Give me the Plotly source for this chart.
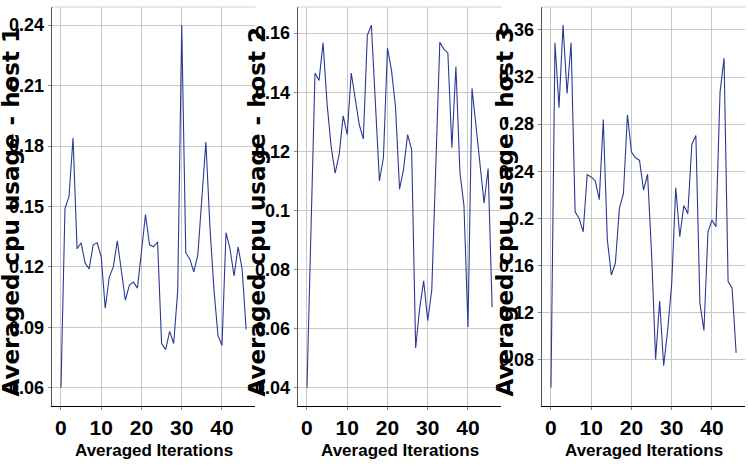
import plotly.graph_objects as go

iterations = list(range(47))

host1 = [0.060, 0.149, 0.155, 0.184, 0.129, 0.132, 0.122, 0.119, 0.131, 0.132,
         0.125, 0.0995, 0.115, 0.120, 0.133, 0.119, 0.1035, 0.111, 0.1125, 0.1095,
         0.128, 0.146, 0.131, 0.130, 0.1325, 0.082, 0.079, 0.088, 0.082, 0.108,
         0.240, 0.127, 0.124, 0.1175, 0.126, 0.155, 0.182, 0.140, 0.109, 0.086,
         0.081, 0.137, 0.129, 0.1155, 0.130, 0.119, 0.089]

host2 = [0.040, 0.098, 0.1465, 0.144, 0.1567, 0.136, 0.1217, 0.1126, 0.119, 0.132,
         0.1257, 0.1465, 0.138, 0.129, 0.1242, 0.1593, 0.1627, 0.1368, 0.110, 0.118,
         0.155, 0.1474, 0.135, 0.1072, 0.114, 0.1257, 0.1206, 0.0535, 0.067, 0.0762,
         0.0627, 0.073, 0.115, 0.1569, 0.1546, 0.1533, 0.1212, 0.1487, 0.1128, 0.1017,
         0.0606, 0.1413, 0.1284, 0.115, 0.1025, 0.1142, 0.0673]

host3 = [0.0563, 0.349, 0.294, 0.364, 0.306, 0.349, 0.2056, 0.200, 0.1887, 0.2372,
         0.2352, 0.2318, 0.216, 0.284, 0.182, 0.152, 0.162, 0.2085, 0.221, 0.288,
         0.2563, 0.2515, 0.2493, 0.224, 0.2375, 0.170, 0.0803, 0.130, 0.075, 0.1056,
         0.145, 0.226, 0.1845, 0.211, 0.204, 0.263, 0.2704, 0.128, 0.105, 0.1887,
         0.1986, 0.193, 0.307, 0.336, 0.1465, 0.1408, 0.086]

series = [host1, host2, host3]
y_titles = ["Averaged cpu usage - host 1", "Averaged cpu usage - host 2", "Averaged cpu usage - host 3"]
x_title = "Averaged Iterations"

y_tickvals = [
    [0.06, 0.09, 0.12, 0.15, 0.18, 0.21, 0.24],
    [0.04, 0.06, 0.08, 0.10, 0.12, 0.14, 0.16],
    [0.08, 0.12, 0.16, 0.20, 0.24, 0.28, 0.32, 0.36],
]
y_ticktext = [
    ["0.06", "0.09", "0.12", "0.15", "0.18", "0.21", "0.24"],
    ["0.04", "0.06", "0.08", "0.1", "0.12", "0.14", "0.16"],
    ["0.08", "0.12", "0.16", "0.2", "0.24", "0.28", "0.32", "0.36"],
]
x_tickvals = [0, 10, 20, 30, 40]
x_ticktext = ["0", "10", "20", "30", "40"]

W, H = 748, 469
panel_px = [(51.7, 255.4), (297.7, 501.4), (541.7, 745.4)]
top_px, bottom_px = 7, 406
ydom = [(H - bottom_px) / H, (H - top_px) / H]
ytitle_x_px = [-5, 241, 489]

TICK_FONT = "Liberation Sans Narrow, Liberation Sans, Arial, sans-serif"
TITLE_FONT = "DejaVu Sans, Verdana, sans-serif"
LINE_COLOR = "#2a3a94"
GRID = "#c8c8c8"

fig = go.Figure()
annotations = []
shapes = []

for k, (vals, (xl, xr)) in enumerate(zip(series, panel_px)):
    n = k + 1
    xa = "x" if n == 1 else f"x{n}"
    ya = "y" if n == 1 else f"y{n}"
    fig.add_trace(go.Scatter(
        x=iterations, y=vals, mode="lines", xaxis=xa, yaxis=ya,
        line=dict(color=LINE_COLOR, width=1.1), showlegend=False,
        hoverinfo="x+y",
    ))
    lo, hi = min(vals), max(vals)
    pad = 0.05 * (hi - lo)
    xpad = 0.05 * (max(iterations) - min(iterations))
    xkey = "xaxis" if n == 1 else f"xaxis{n}"
    ykey = "yaxis" if n == 1 else f"yaxis{n}"
    fig.layout[xkey] = dict(
        domain=[xl / W, xr / W], anchor=ya, automargin=False,
        range=[min(iterations) - xpad, max(iterations) + xpad],
        tickvals=x_tickvals, ticktext=x_ticktext,
        tickfont=dict(family=TICK_FONT, size=21, color="black", weight="bold"),
        showgrid=True, gridcolor=GRID, gridwidth=1,
        showline=True, linecolor="black", linewidth=1.3,
        ticks="outside", ticklen=3, tickcolor="#888", zeroline=False,
    )
    fig.layout[ykey] = dict(
        domain=ydom, anchor=xa, automargin=False,
        range=[lo - pad, hi + pad],
        tickvals=y_tickvals[k], ticktext=y_ticktext[k],
        tickfont=dict(family=TICK_FONT, size=18, color="black", weight="bold"),
        showgrid=True, gridcolor=GRID, gridwidth=1,
        showline=True, linecolor="#555", linewidth=1,
        ticks="outside", ticklen=3, tickcolor="#888", zeroline=False,
    )
    shapes.append(dict(type="line", xref=f"{xa} domain", yref=f"{ya} domain",
                       x0=0, x1=1, y0=1, y1=1, line=dict(color="#d0d0d0", width=1)))
    annotations.append(dict(
        text=y_titles[k], textangle=-90, showarrow=False,
        xref="paper", yref="paper", x=ytitle_x_px[k] / W, xanchor="left",
        y=(H - 211.5) / H, yanchor="middle",
        font=dict(family=TITLE_FONT, size=23, color="black", weight="bold"),
    ))
    annotations.append(dict(
        text=x_title, showarrow=False,
        xref="paper", yref="paper", x=(xl + xr) / 2 / W, xanchor="center",
        y=(H - 450) / H, yanchor="middle",
        font=dict(family=TICK_FONT, size=17, color="black", weight="bold"),
    ))

fig.update_layout(
    width=W, height=H,
    margin=dict(l=0, r=0, t=0, b=0),
    paper_bgcolor="white", plot_bgcolor="white",
    annotations=annotations, shapes=shapes,
)

fig.write_html("out.html", config={"displayModeBar": False},
               post_script="document.body.style.margin='0';")
